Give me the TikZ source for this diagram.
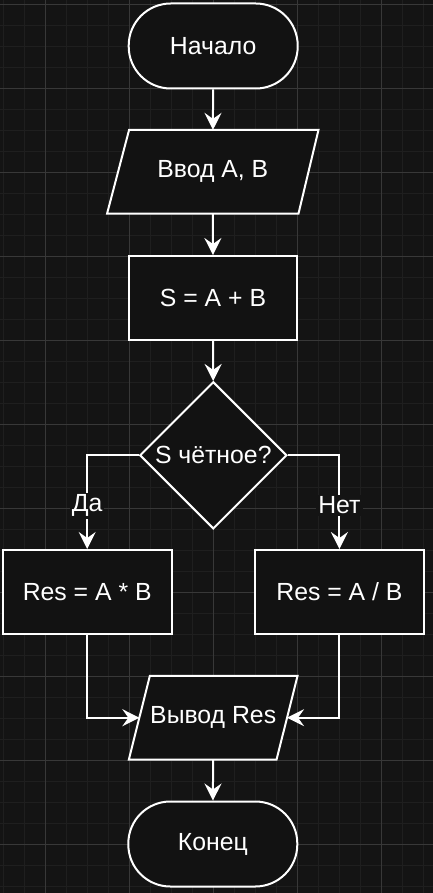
\documentclass[tikz,border=0pt]{standalone}
\usepackage{fontspec}
\setmainfont{Liberation Sans}
\usetikzlibrary{shapes.geometric,arrows.meta}
\pgfdeclarelayer{gridlayer}
\pgfdeclarelayer{shapelayer}
\pgfsetlayers{gridlayer,shapelayer,main}
\definecolor{bgc}{HTML}{141414}
\definecolor{nodefill}{HTML}{121212}
\definecolor{minorc}{HTML}{1F1F1F}
\definecolor{majorc}{HTML}{383838}
\tikzset{
  basefont/.style={font=\fontsize{24.8}{29}\selectfont, text=white},
  shapeline/.style={draw=white, line width=2pt, fill=nodefill},
  terminal/.style={basefont, shapeline, rounded corners=42pt, minimum width=169pt, minimum height=85pt, inner sep=0pt},
  procbox/.style={basefont, shapeline, rectangle, minimum width=168pt, minimum height=84pt, inner sep=0pt},
  iobox/.style={basefont, rectangle, draw=none, minimum height=83.3pt, inner sep=0pt},
  decbox/.style={basefont, shapeline, diamond, aspect=1, minimum width=147pt, minimum height=147pt, inner sep=0pt},
  conn/.style={draw=white, line width=2pt, -{Stealth[length=17pt,width=17pt,inset=6pt]}},
  lbl/.style={basefont, fill=bgc, inner sep=2pt},
  minorgrid/.style={draw=minorc, line width=1pt},
  majorgrid/.style={draw=majorc, line width=1pt}
}
\begin{document}
\begin{tikzpicture}[x=1pt,y=-1pt]
\useasboundingbox (0,0) rectangle (433,893);
\begin{pgfonlayer}{gridlayer}
  \fill[bgc] (0,0) rectangle (433,893);
  \foreach \i in {0,...,20} \draw[minorgrid] ({3.3+21*\i},0) -- ({3.3+21*\i},893);
  \foreach \i in {0,...,42} \draw[minorgrid] (0,{4.3+21*\i}) -- (433,{4.3+21*\i});
  \foreach \i in {0,...,4} \draw[majorgrid] ({45.3+84*\i},0) -- ({45.3+84*\i},893);
  \foreach \i in {0,...,10} \draw[majorgrid] (0,{4.3+84*\i}) -- (433,{4.3+84*\i});
\end{pgfonlayer}

\node[terminal] (start) at (213.2,46) {Начало};
\node[iobox, minimum width=211pt] (in) at (212.8,171.7) {Ввод A, B};
\node[procbox] (sum) at (213,298) {S = A + B};
\node[decbox] (dec) at (213.3,455.3) {S чётное?};
\node[procbox, minimum width=169pt] (left) at (87.2,592) {Res = A * B};
\node[procbox, minimum width=169pt] (right) at (339.4,592) {Res = A / B};
\node[iobox, minimum width=168.3pt] (out) at (213.2,717.7) {Вывод Res};
\node[terminal] (end) at (212.8,844) {Конец};

\begin{pgfonlayer}{shapelayer}
  \draw[shapeline] ([xshift=22pt]in.north west) -- (in.north east) -- ([xshift=-20pt]in.south east) -- (in.south west) -- cycle;
  \draw[shapeline] ([xshift=21pt]out.north west) -- (out.north east) -- ([xshift=-21pt]out.south east) -- (out.south west) -- cycle;
\end{pgfonlayer}

\coordinate (outL) at ([xshift=10.5pt]out.west);
\coordinate (outR) at ([xshift=-10.5pt]out.east);

\draw[conn] (start) -- (in);
\draw[conn] (in) -- (sum);
\draw[conn] (sum) -- (dec);
\draw[conn] (dec.west) -| (left.north);
\draw[conn] (dec.east) -| (right.north);
\draw[conn] (left.south) |- (outL);
\draw[conn] (right.south) |- (outR);
\draw[conn] (out) -- (end);

\node[lbl] (yes) at (87.2,505.5) {Да};
\node[lbl] (no) at (339.4,505.5) {Нет};
\end{tikzpicture}
\end{document}
